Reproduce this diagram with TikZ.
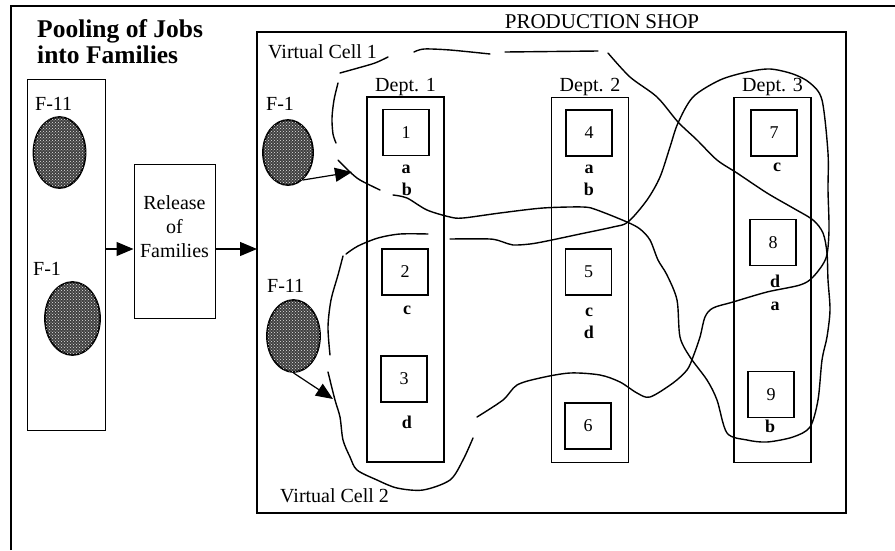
\documentclass[tikz,border=0pt]{standalone}
\usepackage{fontspec}
\setmainfont{Liberation Serif}
\usetikzlibrary{arrows.meta,shapes.geometric,patterns}

\begin{document}
\begin{tikzpicture}[x=1pt,y=-1pt,
    lab/.style={inner sep=0pt,font=\fontsize{20}{24}\selectfont},
    fam/.style={inner sep=0pt,font=\fontsize{20}{20}\selectfont},
    job/.style={inner sep=0pt,font=\fontsize{18}{18}\selectfont\bfseries},
    machine/.style={draw,line width=1.2pt,minimum size=46pt,inner sep=0pt,font=\fontsize{18}{18}\selectfont},
    dept/.style={draw,line width=1.6pt,minimum width=77pt,minimum height=365pt,inner sep=0pt},
    blob/.style={ellipse,draw,line width=1.8pt,fill=black!75,
      postaction={pattern=crosshatch dots,pattern color=white!80!gray},inner sep=0pt},
    feed/.style={line width=1.2pt,-{Triangle[length=17pt,width=14pt]}},
    freehand/.style={line width=1.4pt,line cap=round,line join=round}]

  \useasboundingbox (0,0) rectangle (895,550);
  \fill[white] (0,0) rectangle (895,550);

  \coordinate (feedline) at (0,249);
  \coordinate (deptline) at (0,91);

  % outer frame
  \draw[line width=1.2pt] (11,550) -- (11,6) -- (895,6);

  % pooling of jobs
  \node[inner sep=0pt,anchor=north west,align=left,font=\fontsize{25.5}{26}\selectfont\bfseries]
    (title) at (37,19) {Pooling of Jobs\\into Families};
  \node[draw,line width=1pt,minimum width=78pt,minimum height=351pt,inner sep=0pt] (pool) at (66,254.5) {};
  \node[fam,anchor=base west] (pf11) at (35,110) {F-11};
  \node[blob,minimum width=52pt,minimum height=71pt] (pb11) at (59.5,152.5) {};
  \node[fam,anchor=base west] (pf1) at (33,275) {F-1};
  \node[blob,minimum width=55pt,minimum height=73pt] (pb1) at (72.5,318.5) {};

  % release of families
  \node[draw,line width=1pt,minimum width=81pt,minimum height=154pt,inner sep=0pt] (rel) at (174.5,241) {};
  \node[lab,align=center,anchor=north] (reltxt) at (174.5,195) {Release\\of\\Families};

  \draw[feed] (pool.east |- feedline) -- (rel.west |- feedline);
  \draw[feed] (rel.east |- feedline) -- (257,249);

  % production shop
  \node[draw,line width=1.2pt,minimum width=589pt,minimum height=481pt,inner sep=0pt] (shop) at (551.5,272.5) {};
  \node[lab,anchor=base,font=\fontsize{21}{21}\selectfont] (shoptxt) at (602,28) {PRODUCTION SHOP};
  \node[lab,anchor=base west] (vc1txt) at (268,58) {Virtual Cell 1};
  \node[lab,anchor=base west] (vc2txt) at (280,502) {Virtual Cell 2};

  \node[dept] (d1) at (405.5,279.5) {};
  \node[dept] (d2) at (590,280) {};
  \node[dept] (d3) at (772.5,280) {};
  \node[lab,anchor=base] (d1txt) at (d1.north |- deptline) {Dept. 1};
  \node[lab,anchor=base] (d2txt) at (d2.north |- deptline) {Dept. 2};
  \node[lab,anchor=base] (d3txt) at (d3.north |- deptline) {Dept. 3};

  \node[machine] (m1) at (406,132.5) {1};
  \node[machine] (m2) at (405,272) {2};
  \node[machine] (m3) at (404,379) {3};
  \node[machine] (m4) at (589,133) {4};
  \node[machine] (m5) at (588.5,272) {5};
  \node[machine] (m6) at (588,426) {6};
  \node[machine] (m7) at (774,133) {7};
  \node[machine] (m8) at (773,242.5) {8};
  \node[machine] (m9) at (771,394.5) {9};

  \node[job,anchor=base] (j1a) at (406,173) {a};
  \node[job,anchor=base] (j1b) at (407,195) {b};
  \node[job,anchor=base] (j2c) at (407,314) {c};
  \node[job,anchor=base] (j3d) at (407,428) {d};
  \node[job,anchor=base] (j4a) at (589,173) {a};
  \node[job,anchor=base] (j4b) at (589,195) {b};
  \node[job,anchor=base] (j5c) at (589,316) {c};
  \node[job,anchor=base] (j5d) at (589,338) {d};
  \node[job,anchor=base] (j7c) at (777,171) {c};
  \node[job,anchor=base] (j8d) at (775,287) {d};
  \node[job,anchor=base] (j8a) at (775,310) {a};
  \node[job,anchor=base] (j9b) at (770,432) {b};

  % families released into the shop
  \node[fam,anchor=base west] (sf1txt) at (266,110) {F-1};
  \node[blob,minimum width=50pt,minimum height=65pt] (sf1) at (288,152.5) {};
  \node[fam,anchor=base west] (sf11txt) at (267,292) {F-11};
  \node[blob,minimum width=53pt,minimum height=72pt] (sf11) at (293.5,336) {};
  \coordinate (f1in) at (352,172);
  \coordinate (f11in) at (333,399);
  \draw[feed] (sf1.-62) -- (f1in);
  \draw[feed] (sf11.south) -- (f11in);

  % virtual cell 1
  \begin{scope}[freehand]
    \draw plot[smooth] coordinates {(388,57) (375,63) (358,68) (340,73)};
    \draw plot[smooth] coordinates {(338,83) (334,100) (332,118) (333,134) (336,143)};
    \draw plot[smooth] coordinates {(338,160) (350,172) (360,180) (380,190)};
    \draw plot[smooth] coordinates {(414,52) (424,49) (450,50) (490,54)};
    \draw (505,52) -- (598,51);
    \draw plot[smooth] coordinates {(393,195) (407,198) (427,210) (450,217) (463,218)
      (500,213) (543,208) (583,207) (597,210) (627,222) (640,229) (650,240) (658,260)
      (667,275) (677,300) (680,337) (690,357) (707,380) (717,400) (727,433) (747,440)
      (767,442) (793,437) (810,427) (818,400) (822,360) (827,337) (830,310) (828,280)
      (827,253) (823,233) (813,220) (793,208) (767,193) (737,173) (717,160) (697,140)
      (678,122) (657,97) (630,77) (608,53)};
  \end{scope}

  % virtual cell 2
  \begin{scope}[freehand]
    \draw plot[smooth] coordinates {(428,234) (400,234) (378,238) (358,246) (346,254)};
    \draw plot[smooth] coordinates {(343,256) (338,275) (331,300) (328,327) (330,355)};
    \draw plot[smooth] coordinates {(328,372) (335,400) (340,417) (343,440) (350,457)
      (357,470) (377,480) (397,488) (423,490) (450,480) (463,460) (473,438)};
    \draw plot[smooth] coordinates {(477,417) (503,400) (517,385) (540,378) (570,373)
      (600,375) (620,382) (637,393) (650,397) (673,383) (687,370) (693,357) (700,337)
      (705,317) (713,308) (733,302) (767,292) (800,285) (813,277) (826,258) (829,230)
      (828,190) (828,153) (822,100) (810,83) (793,74) (770,69) (747,72) (720,80)
      (693,97) (678,123) (670,147) (660,177) (647,200) (628,222) (613,227) (580,234)
      (547,241) (530,244) (513,245) (503,242) (490,239) (450,239)};
  \end{scope}

\end{tikzpicture}
\end{document}
